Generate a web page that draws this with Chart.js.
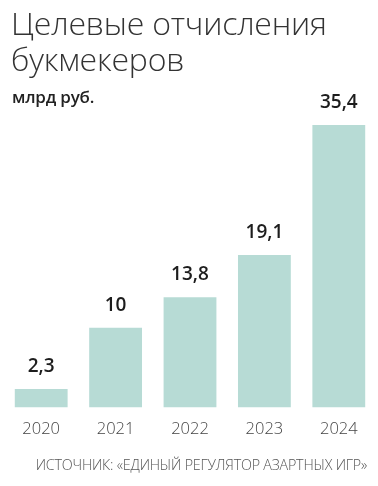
<!DOCTYPE html>
<html>
<head>
<meta charset="utf-8">
<script src="https://cdn.jsdelivr.net/npm/chart.js@4"></script>
<style>
  html, body { margin: 0; padding: 0; background: #fff; }
  body { width: 378px; height: 486px; position: relative; overflow: hidden; font-family: "Open Sans", sans-serif; }
  #title { position: absolute; left: 11px; top: 5px; font-size: 32px; font-weight: 300; line-height: 36px; color: #333; letter-spacing: -0.2px; }
  #unit { position: absolute; left: 12px; top: 85px; font-size: 17px; font-weight: 600; color: #222; letter-spacing: -0.2px; }
  #source { position: absolute; right: 11px; top: 455px; font-size: 14.3px; font-weight: 300; color: #555; letter-spacing: -0.2px; }
  #wrap { position: absolute; left: 0; top: 0; width: 378px; height: 486px; }
</style>
</head>
<body>
<div id="wrap"><canvas id="myChart" width="378" height="486"></canvas></div>
<div id="title">Целевые отчисления<br>букмекеров</div>
<div id="unit">млрд руб.</div>
<div id="source">ИСТОЧНИК: «ЕДИНЫЙ РЕГУЛЯТОР АЗАРТНЫХ ИГР»</div>
<script>
const years = ['2020', '2021', '2022', '2023', '2024'];
const values = [2.3, 10, 13.8, 19.1, 35.4];
const valueLabels = ['2,3', '10', '13,8', '19,1', '35,4'];

// value above every bar
const barValues = {
  id: 'barValues',
  afterDatasetsDraw(chart) {
    const ctx = chart.ctx;
    const meta = chart.getDatasetMeta(0);
    ctx.save();
    ctx.font = '600 19px "Open Sans"';
    ctx.fillStyle = '#1d1d1d';
    ctx.textAlign = 'center';
    ctx.textBaseline = 'alphabetic';
    meta.data.forEach((bar, i) => {
      ctx.fillText(valueLabels[i], bar.x, bar.y - 17);
    });
    ctx.restore();
  }
};

const ctxx = document.getElementById('myChart').getContext('2d');
const chart = new Chart(ctxx, {
  type: 'bar',
  data: {
    labels: years,
    datasets: [{
      data: values,
      backgroundColor: '#b7dbd5',
      borderWidth: 0,
      categoryPercentage: 1,
      barPercentage: 0.71
    }]
  },
  options: {
    responsive: false,
    animation: false,
    layout: { padding: { left: 4, right: 2, top: 88.4, bottom: 34.8 } },
    plugins: { legend: { display: false }, tooltip: { enabled: false } },
    scales: {
      x: {
        grid: { display: false, drawTicks: false },
        border: { display: false },
        ticks: { padding: 12, color: '#444', font: { family: 'Open Sans', size: 16.5, weight: '300' } }
      },
      y: {
        display: false,
        min: 0,
        max: 40
      }
    }
  },
  plugins: [barValues]
});
</script>
</body>
</html>
